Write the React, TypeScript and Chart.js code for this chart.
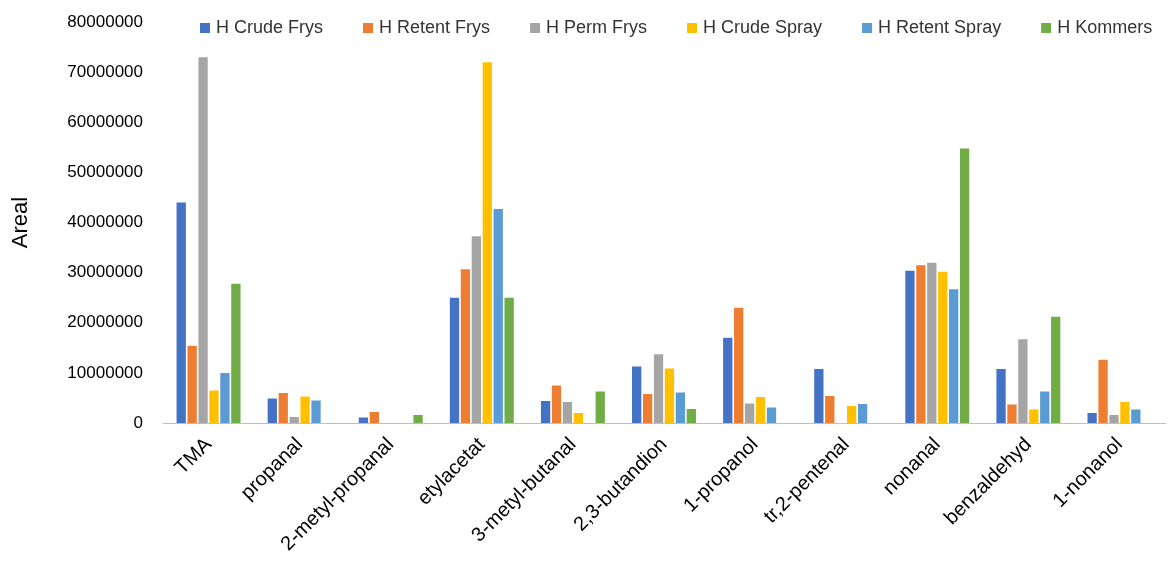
import { Chart, registerables } from 'chart.js';
import { useEffect, useRef } from 'react';

Chart.register(...registerables);

const categories = [
  'TMA', 'propanal', '2-metyl-propanal', 'etylacetat', '3-metyl-butanal',
  '2,3-butandion', '1-propanol', 'tr,2-pentenal', 'nonanal', 'benzaldehyd', '1-nonanol',
];

const crudeFrys = [44e6, 4.9e6, 1.1e6, 25e6, 4.4e6, 11.3e6, 17e6, 10.8e6, 30.4e6, 10.8e6, 2e6];
const retentFrys = [15.4e6, 6e6, 2.2e6, 30.7e6, 7.5e6, 5.8e6, 23e6, 5.4e6, 31.5e6, 3.7e6, 12.6e6];
const permFrys = [73e6, 1.2e6, 0, 37.3e6, 4.2e6, 13.7e6, 3.9e6, 0, 32e6, 16.7e6, 1.6e6];
const crudeSpray = [6.5e6, 5.3e6, 0, 72e6, 2e6, 10.9e6, 5.2e6, 3.4e6, 30.2e6, 2.7e6, 4.2e6];
const retentSpray = [10e6, 4.5e6, 0, 42.7e6, 0, 6.1e6, 3.1e6, 3.8e6, 26.7e6, 6.3e6, 2.7e6];
const kommers = [27.8e6, 0, 1.6e6, 25e6, 6.3e6, 2.8e6, 0, 0, 54.8e6, 21.2e6, 0];

const font = 'Liberation Sans';

// legend drawn inside the plot area, like the Excel original
const overlayLegend = {
  id: 'overlayLegend',
  afterDraw(chart: Chart) {
    const ctx = chart.ctx;
    ctx.save();
    ctx.font = `18px "${font}"`;
    ctx.textBaseline = 'middle';
    let x = chart.chartArea.left + 37;
    const y = 28;
    chart.data.datasets.forEach((d) => {
      ctx.fillStyle = d.backgroundColor as string;
      ctx.fillRect(x, y - 5, 10, 10);
      ctx.fillStyle = '#333';
      ctx.fillText(d.label as string, x + 16, y);
      x += 16 + ctx.measureText(d.label as string).width + 40;
    });
    ctx.restore();
  },
};

export default function App() {
  const canvas = useRef<HTMLCanvasElement | null>(null);

  useEffect(() => {
    document.body.style.margin = '0';
    if (!canvas.current) return;
    const ds = (label: string, data: number[], color: string) => ({
      label, data, backgroundColor: color, categoryPercentage: 0.72, barPercentage: 0.85,
    });
    const chart = new Chart(canvas.current, {
      type: 'bar',
      data: {
        labels: categories,
        datasets: [
          ds('H Crude Frys', crudeFrys, '#4472C4'),
          ds('H Retent Frys', retentFrys, '#ED7D31'),
          ds('H Perm Frys', permFrys, '#A5A5A5'),
          ds('H Crude Spray', crudeSpray, '#FFC000'),
          ds('H Retent Spray', retentSpray, '#5B9BD5'),
          ds('H Kommers', kommers, '#70AD47'),
        ],
      },
      plugins: [overlayLegend],
      options: {
        animation: false,
        responsive: false,
        layout: { padding: { top: 8, right: 8, left: 4 } },
        plugins: {
          legend: { display: false },
          tooltip: { enabled: false },
        },
        scales: {
          x: {
            grid: { display: false, drawTicks: false },
            border: { color: '#bfbfbf' },
            afterFit: (s) => { s.height = 151; },
            ticks: { color: '#000', font: { family: font, size: 20 }, maxRotation: 45, minRotation: 45, padding: 10 },
          },
          y: {
            min: 0,
            max: 80000000,
            grid: { display: false },
            border: { display: false },
            afterFit: (s) => { s.width = 159; },
            ticks: { stepSize: 10000000, color: '#000', font: { family: font, size: 17 }, padding: 12, callback: (v) => String(v) },
            title: { display: true, text: 'Areal', color: '#000', font: { family: font, size: 22 } },
          },
        },
      },
    });
    return () => chart.destroy();
  }, []);

  return <canvas ref={canvas} width={1173} height={574}></canvas>;
}
